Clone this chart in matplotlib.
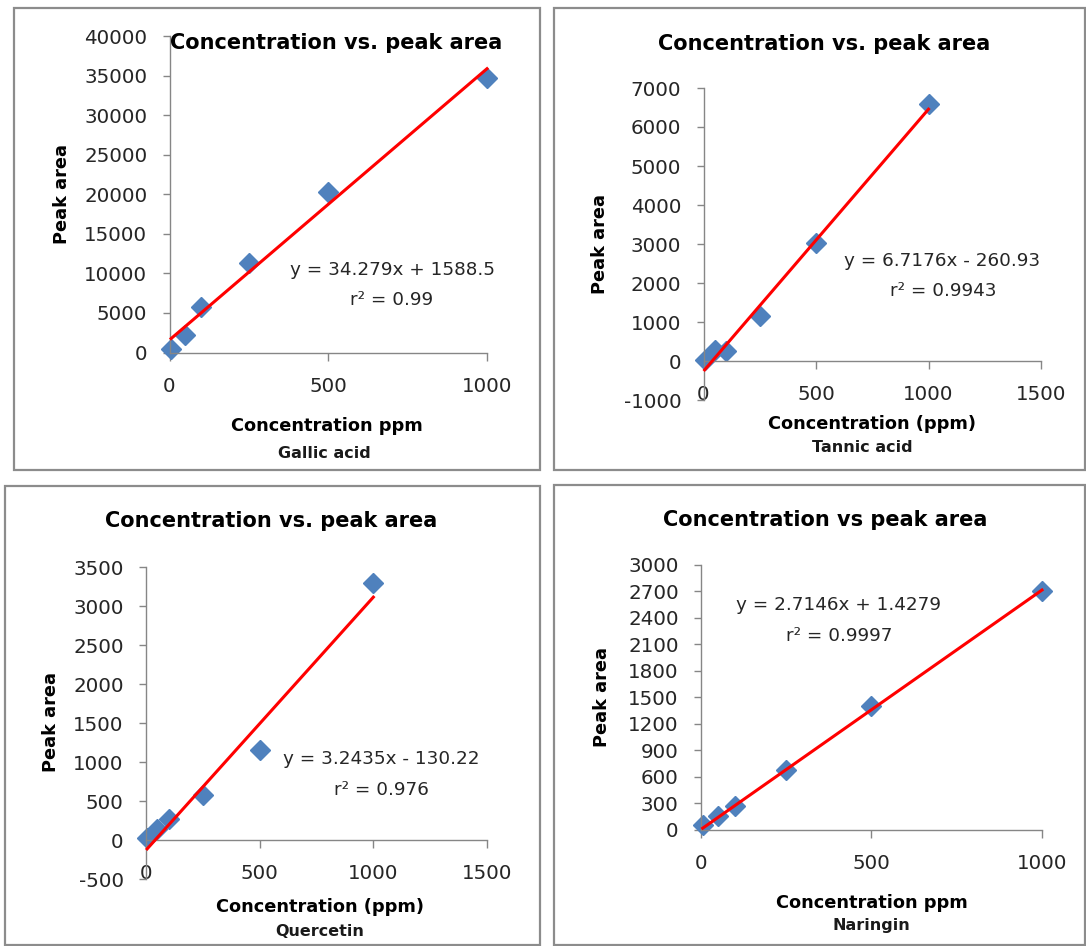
import numpy as np
import matplotlib
matplotlib.use("Agg")
import matplotlib.pyplot as plt
from matplotlib.patches import Rectangle

plt.rcParams["font.family"] = ["DejaVu Sans"]
plt.rcParams["axes.unicode_minus"] = False

# data
concentration_ppm = [5, 50, 100, 250, 500, 1000]
gallic_area = [450, 2200, 5800, 11300, 20300, 34700]
tannic_area = [25, 280, 260, 1150, 3020, 6600]
quercetin_area = [20, 140, 265, 580, 1150, 3300]
naringin_area = [50, 150, 270, 680, 1400, 2710]

slopes = [34.279, 6.7176, 3.2435, 2.7146]
intercepts = [1588.5, -260.93, -130.22, 1.4279]
r_squared = ["0.99", "0.9943", "0.976", "0.9997"]
compounds = ["Gallic acid", "Tannic acid", "Quercetin", "Naringin"]
titles = ["Concentration vs. peak area", "Concentration vs. peak area",
          "Concentration vs. peak area", "Concentration vs peak area"]
xlabels = ["Concentration ppm", "Concentration (ppm)",
           "Concentration (ppm)", "Concentration ppm"]

W, H = 1086, 946
fig = plt.figure(figsize=(W / 100, H / 100), dpi=100)
fig.patch.set_facecolor("white")


def fx(x):
    return x / W


def fy(y):
    return 1 - y / H


def px_axes(left, right, top, bottom):
    return fig.add_axes([fx(left), fy(bottom), (right - left) / W, (bottom - top) / H])


def eq_text(m, b):
    sign = "+" if b >= 0 else "-"
    return f"y = {m}x {sign} {abs(b)}"


# panel frames (px): left, top, right, bottom
frames = [(14, 8, 540, 470), (554, 8, 1085, 470), (5, 486, 540, 945), (554, 485, 1085, 945)]
for l, t, r, b in frames:
    fig.patches.append(Rectangle((fx(l), fy(b)), (r - l) / W, (b - t) / H,
                                 transform=fig.transFigure, fill=False,
                                 edgecolor="#8c8c8c", linewidth=1.6))

# axes boxes (px) and limits
boxes = [(169.5, 487, 36, 352.5), (703.5, 1041, 88, 400), (146, 487, 567, 879), (701, 1042, 565, 829.5)]
xlims = [(0, 1000), (0, 1500), (0, 1500), (0, 1000)]
ylims = [(0, 40000), (-1000, 7000), (-500, 3500), (0, 3000)]
xsteps = [500, 500, 500, 500]
ysteps = [5000, 1000, 500, 300]
areas = [gallic_area, tannic_area, quercetin_area, naringin_area]

# text positions (px)
title_pos = [(336, 43), (824, 44), (271, 521), (825, 520)]
ylabel_pos = [(62, 194), (600, 244), (51, 722), (602, 697)]
xlabel_pos = [(327, 426), (872, 424), (320, 907), (872, 903)]
sub_pos = [(324, 453), (862, 447), (320, 931), (871, 925)]
eq_pos = [(392, 270), (942, 261), (381, 759), (839, 605)]
r2_pos = [(392, 300), (943, 291), (381, 790), (839, 636)]

x = np.array(concentration_ppm)
for i in range(4):
    ax = px_axes(*boxes[i])
    ax.set_xlim(*xlims[i])
    ax.set_ylim(*ylims[i])
    ax.set_facecolor("none")
    for s in ["top", "right"]:
        ax.spines[s].set_visible(False)
    for s in ["left", "bottom"]:
        ax.spines[s].set_color("#868686")
        ax.spines[s].set_linewidth(1.0)
    ax.spines["bottom"].set_position(("data", 0))
    ax.set_xticks(np.arange(xlims[i][0], xlims[i][1] + 1, xsteps[i]))
    ax.set_yticks(np.arange(ylims[i][0], ylims[i][1] + 1, ysteps[i]))
    ax.tick_params(axis="x", direction="out", length=5.5, width=1, color="#868686",
                   pad=12, labelsize=14.3, labelcolor="#262626")
    ax.tick_params(axis="y", direction="out", length=5, width=1, color="#868686",
                   pad=11, labelsize=14.3, labelcolor="#262626")

    y = np.array(areas[i])
    xf = np.array([x.min(), x.max()])
    ax.plot(xf, slopes[i] * xf + intercepts[i], color="#ff0000", linewidth=2.2,
            zorder=3, clip_on=False)
    ax.plot(x, y, linestyle="none", marker="D", markersize=10.5, color="#4f81bd",
            zorder=2, clip_on=False)

    fig.text(fx(title_pos[i][0]), fy(title_pos[i][1]), titles[i], ha="center", va="center",
             fontsize=15, fontweight="bold", color="black")
    fig.text(fx(ylabel_pos[i][0]), fy(ylabel_pos[i][1]), "Peak area", ha="center", va="center",
             rotation=90, fontsize=12.8, fontweight="bold", color="black")
    fig.text(fx(xlabel_pos[i][0]), fy(xlabel_pos[i][1]), xlabels[i], ha="center", va="center",
             fontsize=12.8, fontweight="bold", color="black")
    fig.text(fx(sub_pos[i][0]), fy(sub_pos[i][1]), compounds[i], ha="center", va="center",
             fontsize=11.5, fontweight="bold", color="#1a1a1a")
    fig.text(fx(eq_pos[i][0]), fy(eq_pos[i][1]), eq_text(slopes[i], intercepts[i]),
             ha="center", va="center", fontsize=13.2, color="#262626")
    fig.text(fx(r2_pos[i][0]), fy(r2_pos[i][1]), f"r² = {r_squared[i]}",
             ha="center", va="center", fontsize=13.2, color="#262626")

fig.savefig("out.png", dpi=100)
